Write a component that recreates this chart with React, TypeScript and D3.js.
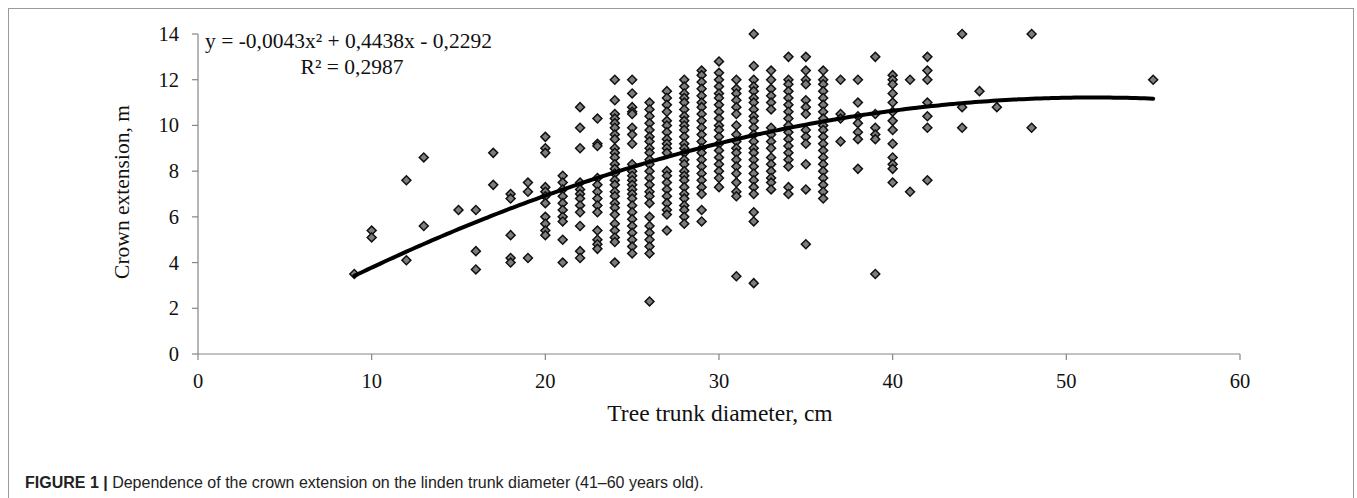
import React from "react";
import * as d3 from "d3";

// trunk diameter classes (cm) and the crown extension values (m) measured in each
const diameterClasses = [
  9, 10, 12, 13, 15, 16, 17, 18, 19, 20, 21, 22, 23, 24, 25, 26, 27, 28, 29, 30,
  31, 32, 33, 34, 35, 36, 37, 38, 39, 40, 41, 42, 44, 45, 46, 48, 55,
];

const crownByDiameter = [
  [3.5],
  [5.4, 5.1],
  [7.6, 4.1],
  [8.6, 5.6],
  [6.3],
  [6.3, 4.5, 3.7],
  [8.8, 7.4],
  [7.0, 6.8, 5.2, 4.2, 4.0],
  [7.5, 7.1, 4.2],
  [9.5, 9.0, 8.8, 7.3, 7.1, 6.9, 6.6, 6.0, 5.7, 5.4, 5.2],
  [7.8, 7.5, 7.2, 6.9, 6.6, 6.3, 6.0, 5.8, 5.0, 4.0],
  [10.8, 9.9, 9.0, 7.5, 7.2, 7.0, 6.8, 6.5, 6.2, 5.6, 4.5, 4.2],
  [10.3, 9.2, 9.1, 7.7, 7.4, 7.1, 6.8, 6.5, 6.2, 5.4, 5.0, 4.8, 4.6],
  [12.0, 11.1, 10.5, 10.3, 10.1, 9.9, 9.6, 9.4, 9.0, 8.8, 8.6, 8.3, 8.1, 7.9, 7.6, 7.4, 7.1, 6.9, 6.6, 6.4, 6.1, 5.7, 5.4, 5.1, 4.9, 4.0],
  [12.0, 11.4, 10.8, 10.6, 10.5, 9.9, 9.6, 9.2, 8.3, 8.0, 7.8, 7.6, 7.4, 7.2, 7.0, 6.8, 6.5, 6.2, 5.9, 5.6, 5.3, 5.0, 4.7, 4.4],
  [11.0, 10.7, 10.4, 10.1, 9.8, 9.5, 9.3, 9.0, 8.8, 8.5, 8.3, 8.0, 7.7, 7.4, 7.1, 6.9, 6.6, 6.0, 5.6, 5.3, 5.0, 4.7, 4.4, 2.3],
  [11.5, 11.2, 10.9, 10.6, 10.2, 10.0, 9.7, 9.4, 9.2, 9.0, 8.8, 8.0, 7.8, 7.5, 7.2, 6.9, 6.6, 6.3, 6.1, 5.4],
  [12.0, 11.7, 11.4, 11.2, 11.0, 10.7, 10.4, 10.2, 10.0, 9.8, 9.5, 9.2, 9.0, 8.8, 8.5, 8.3, 8.0, 7.8, 7.6, 7.3, 7.0, 6.8, 6.5, 6.3, 6.0, 5.7],
  [12.4, 12.2, 11.9, 11.6, 11.3, 11.0, 10.8, 10.5, 10.2, 9.9, 9.6, 9.3, 9.0, 8.8, 8.5, 8.2, 7.9, 7.6, 7.3, 7.0, 6.3, 5.8],
  [12.8, 12.3, 12.0, 11.7, 11.4, 11.2, 10.9, 10.6, 10.3, 10.0, 9.8, 9.5, 9.2, 8.9, 8.6, 8.3, 8.0, 7.7, 7.3],
  [12.0, 11.6, 11.4, 11.1, 10.8, 10.5, 10.0, 9.6, 9.3, 9.0, 8.8, 8.5, 8.2, 7.9, 7.5, 7.1, 6.9, 3.4],
  [14.0, 12.6, 12.0, 11.7, 11.5, 11.2, 11.0, 10.7, 10.4, 10.2, 9.9, 9.6, 9.3, 9.0, 8.8, 8.5, 8.2, 7.9, 7.6, 7.3, 7.0, 6.2, 5.8, 3.1],
  [12.4, 12.0, 11.6, 11.3, 11.0, 10.7, 9.9, 9.6, 9.3, 9.0, 8.6, 8.3, 8.0, 7.7, 7.5, 7.2],
  [13.0, 12.0, 11.8, 11.5, 11.2, 10.9, 10.6, 10.3, 10.0, 9.7, 9.4, 9.1, 8.8, 8.5, 8.2, 7.3, 7.0],
  [13.0, 12.4, 12.0, 11.8, 11.1, 10.8, 10.5, 9.8, 9.5, 9.2, 8.3, 7.2, 4.8],
  [12.4, 12.0, 11.8, 11.5, 11.2, 10.9, 10.6, 10.3, 10.0, 9.8, 9.5, 9.2, 8.9, 8.6, 8.3, 8.0, 7.7, 7.4, 7.1, 6.8],
  [12.0, 10.5, 10.3, 9.3],
  [12.0, 11.0, 10.4, 10.1, 9.7, 9.4, 8.1],
  [13.0, 10.5, 9.9, 9.6, 9.4, 3.5],
  [12.2, 12.0, 11.8, 11.4, 11.0, 10.6, 10.2, 9.8, 9.2, 8.6, 8.3, 8.1, 7.5],
  [12.0, 7.1],
  [13.0, 12.4, 12.0, 11.0, 10.4, 9.9, 7.6],
  [14.0, 10.8, 9.9],
  [11.5],
  [10.8],
  [14.0, 9.9],
  [12.0],
];

// polynomial trend line coefficients as printed on the chart
const trendCoef = [-0.0043, 0.4438, -0.2292];
const xTicks = [0, 10, 20, 30, 40, 50, 60];
const yTicks = [0, 2, 4, 6, 8, 10, 12, 14];

const W = 1357;
const H = 498;
const serif = "'Liberation Serif', 'Times New Roman', serif";

export default function App() {
  const x = d3.scaleLinear().domain([0, 60]).range([198, 1240]);
  const y = d3.scaleLinear().domain([0, 14]).range([354, 34]);

  const points = diameterClasses.flatMap((d, i) =>
    crownByDiameter[i].map((c) => ({ d, c }))
  );

  const xMin = d3.min(diameterClasses) as number;
  const xMax = d3.max(diameterClasses) as number;
  const trend = d3.range(xMin, xMax + 0.01, 0.25).map((v) => ({
    d: v,
    c: trendCoef[0] * v * v + trendCoef[1] * v + trendCoef[2],
  }));
  const line = d3
    .line<{ d: number; c: number }>()
    .x((p) => x(p.d))
    .y((p) => y(p.c))
    .curve(d3.curveMonotoneX);

  const diamond = d3.symbol(d3.symbolSquare, 40)() as string;
  const axisColor = "#858585";

  return (
    <svg
      width={W}
      height={H}
      style={{ position: "absolute", left: 0, top: 0, background: "#fff" }}
    >
      <rect x={8.5} y={8.5} width={1345} height={H + 10} fill="none" stroke="#9a9a9a" />

      {/* axes */}
      <g stroke={axisColor} strokeWidth={1.2} fill="none">
        <line x1={x(0)} x2={x(60)} y1={y(0)} y2={y(0)} />
        <line x1={x(0)} x2={x(0)} y1={y(0)} y2={y(14)} />
        {xTicks.map((t) => (
          <line key={t} x1={x(t)} x2={x(t)} y1={y(0)} y2={y(0) + 6} />
        ))}
        {yTicks.map((t) => (
          <line key={t} x1={x(0) - 6} x2={x(0)} y1={y(t)} y2={y(t)} />
        ))}
      </g>

      <g fontFamily={serif} fontSize={20.5} fill="#111">
        {xTicks.map((t) => (
          <text key={t} x={x(t)} y={y(0) + 34} textAnchor="middle">
            {t}
          </text>
        ))}
        {yTicks.map((t) => (
          <text key={t} x={x(0) - 19} y={y(t) + 7} textAnchor="end">
            {t}
          </text>
        ))}
      </g>

      <text x={720} y={421} textAnchor="middle" fontFamily={serif} fontSize={23.5} fill="#111">
        Tree trunk diameter, cm
      </text>
      <text
        transform={`translate(129, ${y(7) - 2}) rotate(-90)`}
        textAnchor="middle"
        fontFamily={serif}
        fontSize={21.5}
        fill="#111"
      >
        Crown extension, m
      </text>

      {/* points */}
      <g fill="#7d7d7d" stroke="#111" strokeWidth={1.5}>
        {points.map((p, i) => (
          <path
            key={i}
            d={diamond}
            transform={`translate(${x(p.d)}, ${y(p.c)}) rotate(45)`}
          />
        ))}
      </g>

      <path d={line(trend) || ""} fill="none" stroke="#000" strokeWidth={4} strokeLinecap="round" />

      <g fontFamily={serif} fontSize={21.5} fill="#111">
        <text x={205} y={48}>
          y = -0,0043x² + 0,4438x - 0,2292
        </text>
        <text x={352} y={74} textAnchor="middle">
          R² = 0,2987
        </text>
      </g>

      <text x={25} y={488} fontFamily="'Liberation Sans', Arial, sans-serif" fontSize={16} fill="#222">
        <tspan fontWeight="bold">FIGURE 1 | </tspan>
        <tspan>Dependence of the crown extension on the linden trunk diameter (41–60 years old).</tspan>
      </text>
    </svg>
  );
}
